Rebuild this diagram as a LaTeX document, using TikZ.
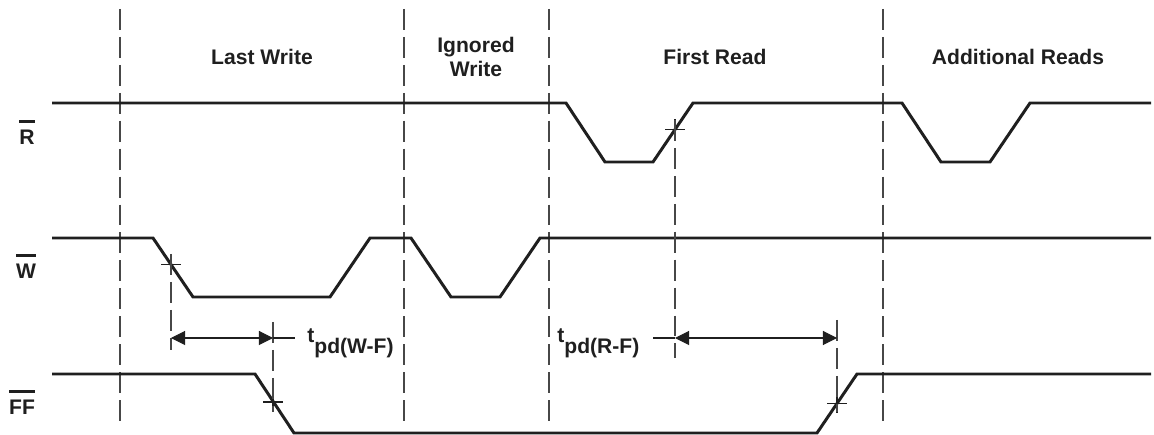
\documentclass[tikz,border=0pt]{standalone}
\usepackage{fontspec}
\setmainfont{Liberation Sans}
\usetikzlibrary{arrows.meta}

\newcommand{\sigbar}[1]{\setbox0\hbox{#1}\rlap{\rule[\dimexpr\ht0+4.5pt\relax]{\wd0}{1.5pt}}\box0}

\begin{document}
\begin{tikzpicture}[x=0.02cm,y=-0.02cm,
    sig/.style={line width=1.7pt,black!88,line join=miter},
    guide/.style={line width=0.6pt,black!72,dash pattern=on 11.9pt off 4pt},
    dim/.style={line width=0.6pt,black!88,{Triangle[length=8pt,width=8pt]}-{Triangle[length=8pt,width=8pt]}},
    tick/.style={line width=0.6pt,black!88},
    lbl/.style={inner sep=0pt,font=\fontsize{12}{14.2}\selectfont\bfseries,text=black!88}]
    \useasboundingbox (0,0) rectangle (1154,435);
    \begin{scope}
    \draw[guide] (120,9) -- (120,428);
    \draw[guide] (404,9) -- (404,428);
    \draw[guide] (549,9) -- (549,428);
    \draw[guide] (883,9) -- (883,428);
    \end{scope}
    \node[lbl,anchor=base] (lastw) at (262,65) {Last Write};
    \node[lbl,anchor=base,align=center] (ignw) at (476,77) {Ignored\\Write};
    \node[lbl,anchor=base] (firstr) at (715,65) {First Read};
    \node[lbl,anchor=base] (addr) at (1018,65) {Additional Reads};
    \node[lbl,anchor=base] (nR) at (27,145) {\sigbar{R}};
    \node[lbl,anchor=base] (nW) at (26,279) {\sigbar{W}};
    \node[lbl,anchor=base] (nFF) at (22,415) {\sigbar{FF}};
    \draw[sig] (52,103) -- (566,103) -- (605,162) -- (653,162) -- (693,103)
        -- (902,103) -- (941,162) -- (990,162) -- (1030,103) -- (1151,103);
    \draw[sig] (52,238) -- (153,238) -- (193,297) -- (330,297) -- (370,238)
        -- (411,238) -- (451,297) -- (500,297) -- (540,238) -- (1151,238);
    \draw[sig] (52,374) -- (255,374) -- (294,433) -- (817,433) -- (857,374)
        -- (1151,374);
    \coordinate (wx) at (171,264.5);
    \coordinate (rx) at (675,129.5);
    \coordinate (fx1) at (273,402);
    \coordinate (fx2) at (837,403.5);
    \foreach \c in {wx,rx,fx1,fx2}
        \draw[tick] (\c) +(-10,0) -- +(10,0) (\c) +(0,-10) -- +(0,10);
    \draw[guide] (171,254) -- (171,350);
    \draw[guide] (675,120) -- (675,358);
    \draw[guide] (273,322) -- (273,412);
    \draw[guide] (837,320) -- (837,412);
    \coordinate (wa) at (171,338);
    \coordinate (wb) at (273,338);
    \coordinate (ra) at (675,338);
    \coordinate (rb) at (837,338);
    \draw[dim] (wa) -- (wb);
    \draw[dim] (ra) -- (rb);
    \draw[tick] (wb) -- ++(22,0);
    \draw[tick] (ra) -- ++(-22,0);
    \node[lbl,anchor=base west] (tWF) at (307,343) {t\raisebox{-5.7pt}{pd(W-F)}};
    \node[lbl,anchor=base west] (tRF) at (557,343) {t\raisebox{-5.7pt}{pd(R-F)}};
\end{tikzpicture}
\end{document}
